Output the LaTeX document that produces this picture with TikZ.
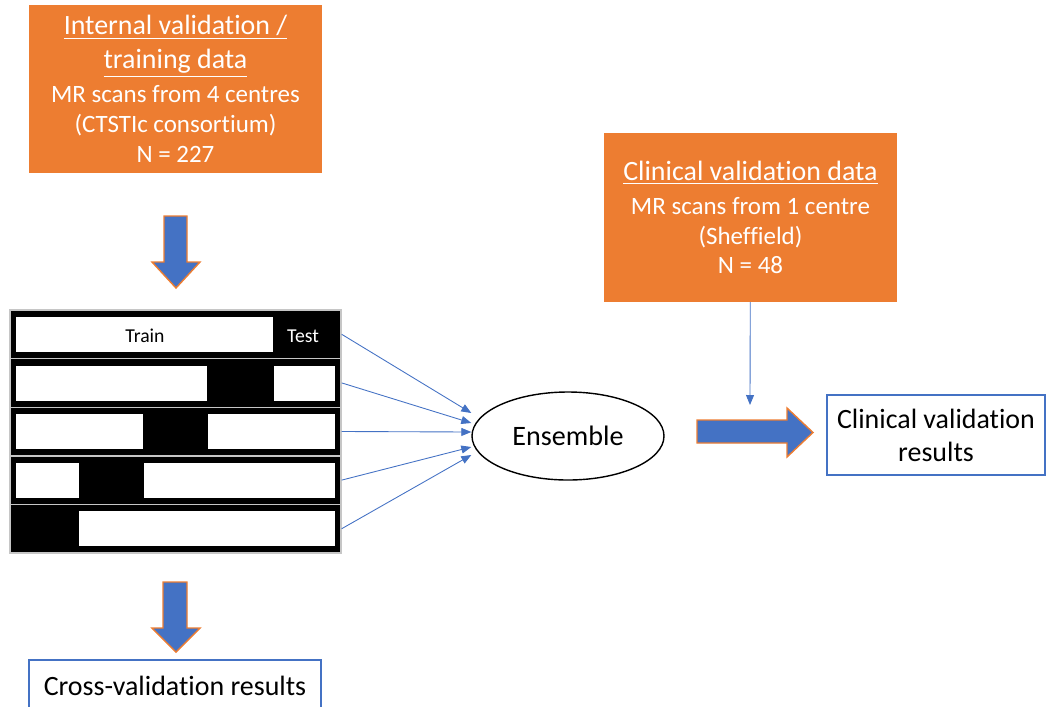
\documentclass[tikz,border=0pt]{standalone}
\usepackage{fontspec}
\setmainfont{Carlito}[Ligatures=NoCommon]
\usetikzlibrary{shapes.geometric,arrows.meta}
\definecolor{accent}{HTML}{ED7D31}
\definecolor{accentblue}{HTML}{4472C4}
\newcommand\heading[1]{{\fontsize{15.9}{19.3}\selectfont\underline{#1}}}

\begin{document}
\begin{tikzpicture}[x=0.2mm, y=-0.2mm,
  data/.style = {fill=accent, text=white, align=center, minimum width=58.6mm, minimum height=33.7mm, inner sep=0, font=\fontsize{14.2}{17}\selectfont},
  result/.style = {draw=accentblue, line width=0.8pt, align=center, inner sep=0, font=\fontsize{15.9}{18.7}\selectfont},
  fold/.style = {fill=black, draw=gray!45, line width=0.8pt, minimum width=66.2mm, minimum height=9.72mm, inner sep=0},
  blockarrow/.style = {fill=accentblue, draw=accent, line width=0.8pt, line join=miter},
  link/.style = {draw=accentblue, line width=0.5pt, -{Triangle[length=2mm,width=1.6mm]}}]
	\useasboundingbox (0,0) rectangle (1047,706);
	% input data
	\node[data] (internal) at (175.5,89) {\heading{Internal validation /}\\[2.3pt]\heading{training data}\\[2.3pt]MR scans from 4 centres\\(CTSTIc consortium)\\N = 227};
	\node[data] (clinical) at (750.5,217.5) {\heading{Clinical validation data}\\[2.3pt]MR scans from 1 centre\\(Sheffield)\\N = 48};
	% folds
	\foreach \i in {1,...,5}
		\node[fold] (r\i) at (175.5,{261.4+48.6*\i+24.3}) {};
	\foreach \i/\a/\b in {1/16/273, 2/16/207, 2/274/335, 3/16/143, 3/208/335, 4/16/79, 4/144/335, 5/79/335}
		\fill[white] (\a,{268.4+48.6*\i}) rectangle (\b,{303.4+48.6*\i});
	\node[font=\fontsize{11.2}{13}\selectfont] (train) at (145,336) {Train};
	\node[font=\fontsize{11.2}{13}\selectfont, text=white] (test) at (303,336) {Test};
	\node[draw, ellipse, line width=0.8pt, minimum width=38.4mm, minimum height=17.6mm, inner sep=0, font=\fontsize{16}{19}\selectfont] (ens) at (568,436) {Ensemble};
	\node[result, minimum width=43.6mm, minimum height=16mm] (cvres) at (936,435) {Clinical validation\\results};
	\node[result, minimum width=58.4mm, minimum height=10.4mm] (xvres) at (175,686) {Cross-validation results};
	\coordinate (drop) at (750,405);
	% arrows
	\draw[blockarrow] (164,216) -- (187,216) -- (187,262) -- (200,262) -- (176,288) -- (152,262) -- (164,262) -- cycle;
	\draw[blockarrow] (163,582) -- (187,582) -- (187,628) -- (200,628) -- (176,652) -- (152,628) -- (163,628) -- cycle;
	\draw[blockarrow] (697,420) -- (787,420) -- (787,408) -- (813,432.5) -- (787,457) -- (787,443) -- (697,443) -- cycle;
	\foreach \i/\s in {1/4.6, 2/2.6, 3/0.8, 4/-2.2, 5/-3.8}
		\draw[link] (r\i.east) -- ([yshift=\s mm]ens.west);
	\draw[link] (clinical) -- (drop);
\end{tikzpicture}
\end{document}
